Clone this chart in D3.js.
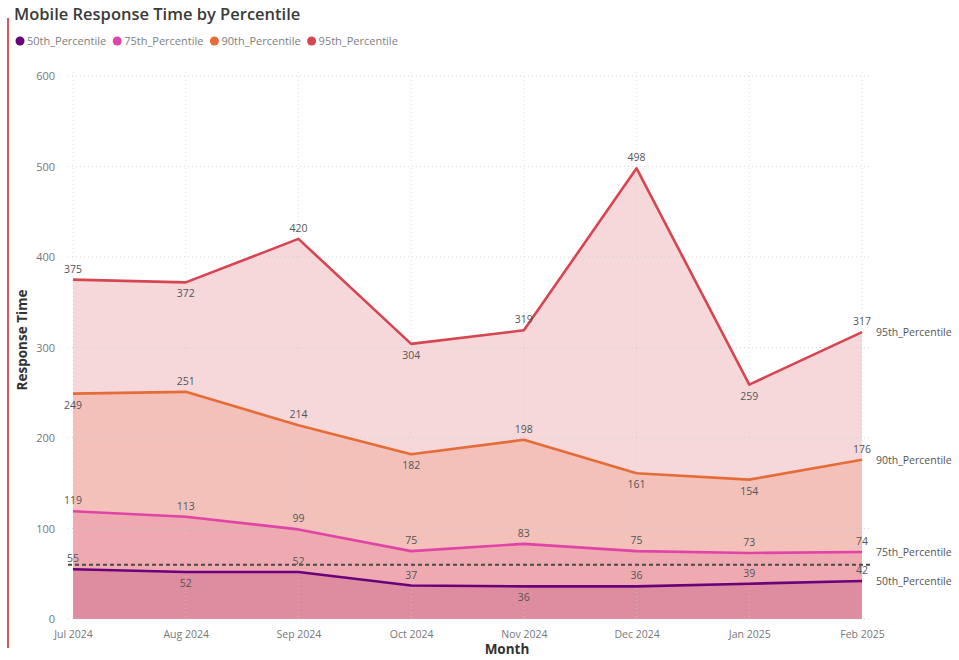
<!DOCTYPE html>
<html>
<head>
<meta charset="utf-8">
<script src="https://cdn.jsdelivr.net/npm/d3@7"></script>
<style>
  html, body { margin: 0; padding: 0; background: #fff; }
  svg { display: block; }
  text { font-family: "Segoe UI", "Open Sans", "Noto Sans", sans-serif; }
</style>
</head>
<body>
<svg id="chart" width="959" height="660"></svg>
<script>
// Monthly mobile response times per percentile
const months = ["Jul 2024", "Aug 2024", "Sep 2024", "Oct 2024", "Nov 2024", "Dec 2024", "Jan 2025", "Feb 2025"];
const p50 = [55, 52, 52, 37, 36, 36, 39, 42];
const p75 = [119, 113, 99, 75, 83, 75, 73, 74];
const p90 = [249, 251, 214, 182, 198, 161, 154, 176];
const p95 = [375, 372, 420, 304, 319, 498, 259, 317];
const yTicks = [0, 100, 200, 300, 400, 500, 600];
const referenceValue = 60;

// Where each point's value label sits relative to the line
const place50 = ["up", "down", "up", "up", "down", "up", "up", "up"];
const place75 = ["up", "up", "up", "up", "up", "up", "up", "up"];
const place90 = ["down", "up", "up", "down", "up", "down", "down", "up"];
const place95 = ["up", "down", "up", "down", "up", "up", "down", "up"];

// Drawn back to front; each area's fill is the blended shade seen where it overlaps the ones behind
const series = [
  { name: "95th_Percentile", values: p95, color: "#D64550", fill: "#F6D8DB", place: place95 },
  { name: "90th_Percentile", values: p90, color: "#E66C37", fill: "#F3C1BA", place: place90 },
  { name: "75th_Percentile", values: p75, color: "#E044A7", fill: "#EEA9B1", place: place75 },
  { name: "50th_Percentile", values: p50, color: "#6B007B", fill: "#DE8CA0", place: place50 }
];
const legendOrder = ["50th_Percentile", "75th_Percentile", "90th_Percentile", "95th_Percentile"];

const svg = d3.select("#chart");
const margin = { left: 73, right: 97, top: 76, bottom: 41 };
const W = 959, H = 660;

const x = d3.scalePoint().domain(months).range([margin.left, W - margin.right]);
const y = d3.scaleLinear().domain([0, 600]).range([H - margin.bottom, margin.top]);

// Accent bar on the left edge
svg.append("line").attr("x1", 8).attr("x2", 8).attr("y1", 18).attr("y2", 648)
  .attr("stroke", "#E0555A").attr("stroke-width", 2);

// Title
svg.append("text").attr("x", 14).attr("y", 20)
  .attr("font-size", 16.5).attr("font-weight", 600).attr("fill", "#3a3a3a")
  .text("Mobile Response Time by Percentile");

// Legend
const colorOf = Object.fromEntries(series.map(s => [s.name, s.color]));
let lx = 20;
const legend = svg.append("g");
legendOrder.forEach(name => {
  legend.append("circle").attr("cx", lx).attr("cy", 41).attr("r", 4.5).attr("fill", colorOf[name]);
  const t = legend.append("text").attr("x", lx + 7).attr("y", 45)
    .attr("font-size", 11).attr("fill", "#808080").text(name);
  lx += t.node().getComputedTextLength() + 18;
});

const gx0 = margin.left - 5, gx1 = W - margin.right + 10;

// Areas, each filled down to zero
const area = d3.area().x((d, i) => x(months[i])).y0(y(0)).y1(d => y(d));
const line = d3.line().x((d, i) => x(months[i])).y(d => y(d));

series.forEach(s => {
  svg.append("path").attr("d", area(s.values)).attr("fill", s.fill);
});

// Gridlines over the areas
svg.append("g").selectAll("line").data(yTicks).join("line")
  .attr("x1", gx0).attr("x2", gx1)
  .attr("y1", d => y(d)).attr("y2", d => y(d))
  .attr("stroke", "#c8c8c8").attr("stroke-opacity", 0.7).attr("stroke-dasharray", "1,3");
svg.append("g").selectAll("line").data(months).join("line")
  .attr("x1", d => x(d)).attr("x2", d => x(d))
  .attr("y1", y(600) - 4).attr("y2", y(0))
  .attr("stroke", "#d0d0d0").attr("stroke-opacity", 0.6).attr("stroke-dasharray", "1,3");

// Y axis
const yAxis = svg.append("g").attr("transform", `translate(${margin.left - 18},0)`)
  .call(d3.axisLeft(y).tickValues(yTicks).tickSize(0).tickPadding(0));
yAxis.select(".domain").remove();
yAxis.selectAll("text").attr("font-size", 11).attr("fill", "#777")
  .attr("font-family", "'Segoe UI', 'Open Sans', sans-serif");

// X axis
const xAxis = svg.append("g").attr("transform", `translate(0,${y(0) + 7})`)
  .call(d3.axisBottom(x).tickSize(0).tickPadding(5));
xAxis.select(".domain").remove();
xAxis.selectAll("text").attr("font-size", 10.5).attr("fill", "#777")
  .attr("font-family", "'Segoe UI', 'Open Sans', sans-serif");

// Axis titles
svg.append("text").attr("transform", "translate(27,340) rotate(-90)")
  .attr("text-anchor", "middle").attr("font-size", 13.5).attr("font-weight", 700).attr("fill", "#333")
  .text("Response Time");
svg.append("text").attr("x", 507).attr("y", 654)
  .attr("text-anchor", "middle").attr("font-size", 13.5).attr("font-weight", 700).attr("fill", "#333")
  .text("Month");

// Constant reference line
svg.append("line").attr("x1", gx0).attr("x2", gx1)
  .attr("y1", y(referenceValue)).attr("y2", y(referenceValue))
  .attr("stroke", "#4a4a4a").attr("stroke-width", 2).attr("stroke-dasharray", "4,3");

series.forEach(s => {
  svg.append("path").attr("d", line(s.values)).attr("fill", "none")
    .attr("stroke", s.color).attr("stroke-width", 2.6).attr("stroke-linejoin", "round");
});

// Value labels
series.forEach(s => {
  svg.append("g").selectAll("text").data(s.values).join("text")
    .attr("x", (d, i) => x(months[i]))
    .attr("y", (d, i) => s.place[i] === "up" ? y(d) - 7 : y(d) + 15)
    .attr("text-anchor", "middle").attr("font-size", 10.5).attr("fill", "#555")
    .text(d => d);
});

// Series names at the right end
series.forEach(s => {
  const last = s.values[s.values.length - 1];
  svg.append("text").attr("x", W - margin.right + 14).attr("y", y(last) + 4)
    .attr("font-size", 10.5).attr("fill", "#555").text(s.name);
});
</script>
</body>
</html>
